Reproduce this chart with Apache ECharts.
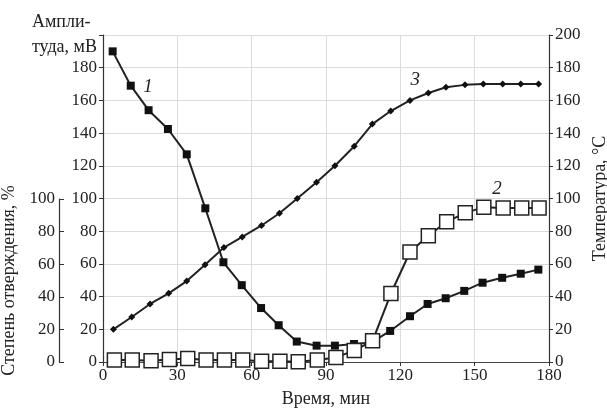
<!DOCTYPE html>
<html><head><meta charset="utf-8">
<script src="https://cdn.jsdelivr.net/npm/echarts@6/dist/echarts.min.js"></script>
<style>html,body{margin:0;padding:0;background:#fff}#c{width:607px;height:408px}</style>
</head><body><div id="c"></div>
<script>
// Amplitude (curve 1), mV
const ampTime = [3.9,11.2,18.4,26.2,33.8,41.3,48.6,56,63.8,70.9,78.2,86.2,93.6,101.3,108.4,115.9,123.9,131,138.3,145.8,153.2,161.1,168.6,175.7];
const ampVal  = [190,169,154,142.5,127,94,61,47,33,22.5,12.5,10,10,11,12,19,28,35.5,39,43.5,48.5,51.5,54,56.5];
// Degree of curing (curve 2), %
const cureTime = [4.6,11.8,19.4,26.8,34.2,41.6,49,56.4,64,71.4,78.8,86.5,94,101.4,108.8,116.2,123.9,131.3,138.7,146.2,153.7,161.5,169,176];
const cureVal  = [1.2,1.2,0.8,1.6,2.2,1.2,1.2,1.2,0.5,0.5,0.2,1.2,2.8,7,13,42,67.5,77.5,86,91.5,95,94.5,94.5,94.5];
// Temperature (curve 3), °C
const tempTime = [4.2,11.6,19,26.5,33.8,41.2,48.8,56.2,64,71.2,78.4,86.2,93.6,101.4,108.7,116.1,123.9,131.3,138.4,146.1,153.5,161.3,168.6,175.8];
const tempVal  = [20,27.5,35.5,42,49.5,59.5,70,76.5,83.5,91,100,110,120,132,145.5,153.5,160,164.5,168,169.5,170,170,170,170];
// Axis ticks
const xTicks = [0,30,60,90,120,150,180];
const curveLabels = [{name:'1', x:18.2, y:168}, {name:'2', x:159, y:106}, {name:'3', x:126, y:172.5}];

const F = 'Liberation Serif';
const C = '#222';
const chart = echarts.init(document.getElementById('c'));
const pair = (xs, ys) => xs.map((x, i) => [x, ys[i]]);
chart.setOption({
  animation: false,
  grid: [
    {left: 103, right: 58, top: 35, bottom: 46, containLabel: false, outerBoundsMode: 'none'},
    {left: 103, right: 58, top: 199, bottom: 46, containLabel: false, outerBoundsMode: 'none'}
  ],
  xAxis: [
    {gridIndex: 0, type: 'value', min: xTicks[0], max: xTicks[xTicks.length-1], interval: 30,
     name: 'Время, мин', nameLocation: 'middle', nameGap: 28,
     nameTextStyle: {fontFamily: F, fontSize: 18, color: C},
     axisLine: {lineStyle: {color: '#333', width: 1.2}},
     axisTick: {show: true, length: 4, lineStyle: {color: '#333'}},
     axisLabel: {fontFamily: F, fontSize: 17, color: C, margin: 5},
     splitLine: {show: true, lineStyle: {color: '#dcdcdc', width: 1}}},
    {gridIndex: 0, type: 'value', position: 'top', min: 0, max: 180,
     axisLine: {show: true, lineStyle: {color: '#444', width: 1.2}},
     axisTick: {show: false}, axisLabel: {show: false}, splitLine: {show: false}},
    {gridIndex: 1, type: 'value', min: 0, max: 180, show: false}
  ],
  yAxis: [
    {gridIndex: 0, type: 'value', min: 0, max: 200, interval: 20, position: 'left',
     axisLine: {show: true, onZero: false, lineStyle: {color: '#333', width: 1.2}},
     axisTick: {show: true, length: 4, lineStyle: {color: '#333'}},
     axisLabel: {fontFamily: F, fontSize: 17, color: C, margin: 6,
                 formatter: v => v === 200 ? '' : String(v)},
     splitLine: {show: true, lineStyle: {color: '#dcdcdc', width: 1}}},
    {gridIndex: 0, type: 'value', min: 0, max: 200, interval: 20, position: 'right',
     name: 'Температура, °C', nameLocation: 'middle', nameGap: 40, nameRotate: 90,
     nameTextStyle: {fontFamily: F, fontSize: 18, color: C},
     axisLine: {show: true, onZero: false, lineStyle: {color: '#333', width: 1.2}},
     axisTick: {show: true, length: 4, lineStyle: {color: '#333'}},
     axisLabel: {fontFamily: F, fontSize: 17, color: C, margin: 6},
     splitLine: {show: false}},
    {gridIndex: 1, type: 'value', min: 0, max: 100, interval: 20, position: 'left', offset: 44,
     name: 'Степень отверждения, %', nameLocation: 'middle', nameGap: 34,
     nameTextStyle: {fontFamily: F, fontSize: 18, color: C},
     axisLine: {show: true, onZero: false, lineStyle: {color: '#333', width: 1.2}},
     axisTick: {show: true, inside: true, length: 5, lineStyle: {color: '#333'}},
     axisLabel: {fontFamily: F, fontSize: 17, color: C, margin: 4},
     splitLine: {show: false}}
  ],
  graphic: [
    {type: 'text', right: 607 - 97, top: 10,
     style: {text: 'Ампли-\nтуда, мВ', font: '18px "Liberation Serif"', fill: C, align: 'right', lineHeight: 25}}
  ],
  series: [
    {type: 'line', xAxisIndex: 0, yAxisIndex: 0, data: pair(ampTime, ampVal),
     symbol: 'rect', symbolSize: 8, itemStyle: {color: '#111'},
     lineStyle: {color: '#222', width: 2}, z: 3, clip: false,
     markPoint: {symbol: 'rect', symbolSize: 1, itemStyle: {color: 'rgba(0,0,0,0)'},
       label: {show: true, position: 'inside', fontFamily: F, fontStyle: 'italic', fontSize: 19, color: C, formatter: p => p.name},
       data: [{name: curveLabels[0].name, coord: [curveLabels[0].x, curveLabels[0].y]}]}},
    {type: 'line', xAxisIndex: 0, yAxisIndex: 1, data: pair(tempTime, tempVal),
     symbol: 'diamond', symbolSize: 7, itemStyle: {color: '#111'},
     lineStyle: {color: '#222', width: 2}, z: 3, clip: false,
     markPoint: {symbol: 'rect', symbolSize: 1, itemStyle: {color: 'rgba(0,0,0,0)'},
       label: {show: true, position: 'inside', fontFamily: F, fontStyle: 'italic', fontSize: 19, color: C, formatter: p => p.name},
       data: curveLabels.slice(1).map(l => ({name: l.name, coord: [l.x, l.y]}))}},
    {type: 'line', xAxisIndex: 2, yAxisIndex: 2, data: pair(cureTime, cureVal),
     symbol: 'rect', symbolSize: 14, showAllSymbol: true,
     itemStyle: {color: '#fff', borderColor: '#222', borderWidth: 1.5},
     lineStyle: {color: '#222', width: 2}, z: 5, clip: false}
  ]
});
</script></body></html>
